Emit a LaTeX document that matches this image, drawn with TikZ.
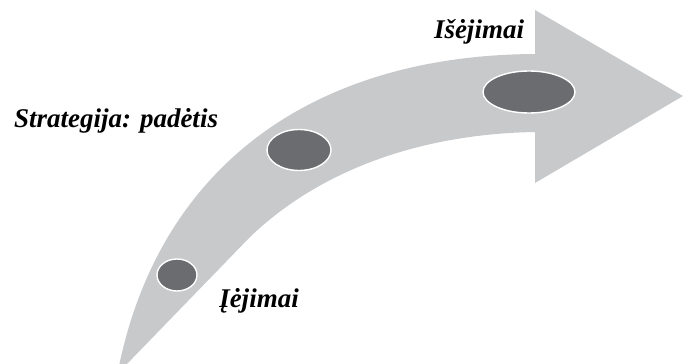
\documentclass[tikz,border=0pt]{standalone}
\usepackage{fontspec}
\setmainfont{Liberation Serif}
\usetikzlibrary{shapes.geometric}
\definecolor{arrowgray}{HTML}{C8C9CB}
\definecolor{spotgray}{HTML}{6B6C6F}

\begin{document}
\begin{tikzpicture}[
	x=1pt, y=-1pt,
	spot/.style={ ellipse, draw=white, line width=1.4pt, fill=spotgray, inner sep=0pt },
	caption/.style={ anchor=base, inner sep=0pt, font=\fontsize{27}{30}\selectfont\bfseries\itshape }
]
\useasboundingbox (0,0) rectangle (683,364);

% the bent arrow
\fill[arrowgray] (119,366) .. controls (162,160) and (320,55) .. (535,54)
	-- (535,10) -- (683,96) -- (535,183) -- (535,132)
	.. controls (420,134) and (320,170) .. (250,237) -- (125,366) -- cycle;

\node at (177,275) (inputs) [spot, minimum width=40pt, minimum height=32pt] {};
\node at (299,150) (state) [spot, minimum width=64pt, minimum height=41pt] {};
\node at (529,92) (outputs) [spot, minimum width=92pt, minimum height=42pt] {};

\node at (259,307) (inputslabel) [caption] {Įėjimai};
\node at (116,127) (statelabel) [caption] {Strategija: padėtis};
\node at (479,38) (outputslabel) [caption] {Išėjimai};

\end{tikzpicture}
\end{document}
